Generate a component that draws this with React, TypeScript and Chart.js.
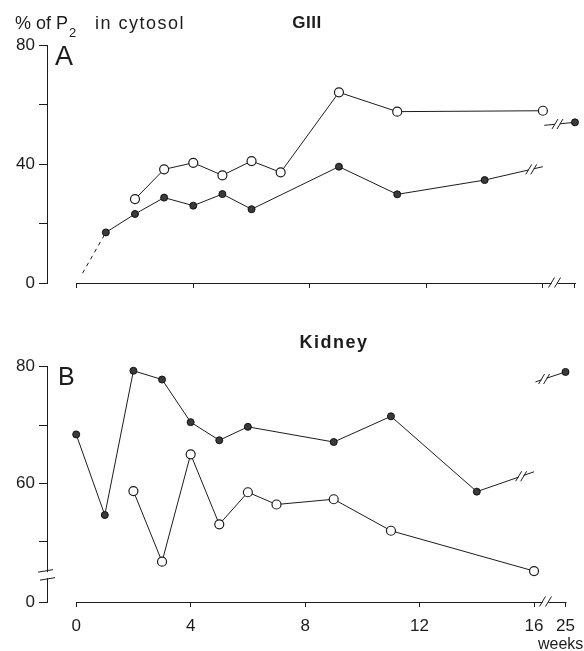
import React, { useEffect, useRef } from 'react';
import { Chart, registerables } from 'chart.js';

Chart.register(...registerables);

// ---------- data ----------
const xTickWeeks = [0, 4, 8, 12, 16, 25];
const xTickLabels = ['0', '4', '8', '12', '16', '25'];

// Panel A (GIII)
const weeksFilledA = [1, 2, 3, 4, 5, 6, 9, 11, 14];
const valuesFilledA = [17.0, 23.2, 28.7, 26.0, 29.9, 24.8, 39.1, 29.8, 34.6];
const weeksOpenA = [2, 3, 4, 5, 6, 7, 9, 11, 16];
const valuesOpenA = [28.2, 38.2, 40.4, 36.2, 41.0, 37.2, 64.1, 57.6, 57.9];
const filledA25 = 54.0; // filled value at 25 weeks
const breakEndsFilledA = [39.1, 53.0]; // line value just before / after the break
const extrapolationA = [3.3, 17.0]; // dashed line values (near week 0, at week 1)
const extrapolationWeeksA = [0.2, 1];
const yTicksA = [0, 20, 40, 60, 80];
const yTickLabelsA = ['0', '', '40', '', '80'];

// Panel B (Kidney)
const weeksFilledB = [0, 1, 2, 3, 4, 5, 6, 9, 11, 14];
const valuesFilledB = [68.4, 54.6, 79.3, 77.8, 70.5, 67.4, 69.7, 67.1, 71.5, 58.6];
const weeksOpenB = [2, 3, 4, 5, 6, 7, 9, 11, 16];
const valuesOpenB = [58.7, 46.6, 65.0, 53.0, 58.5, 56.4, 57.3, 51.9, 45.0];
const filledB25 = 79.1;
const breakEndsFilledB = [62.0, 77.4];
const yTicksB = [0, 50, 60, 70, 80];
const yTickLabelsB = ['0', '', '60', '', '80'];

// ---------- layout / style ----------
const FONT = '"Liberation Sans", Arial, Helvetica, sans-serif';
const INK = '#1c1c1c';
const W = 584;
const TOP_H = 300;
const BOT_H = 351;

const X_MIN = -1.02;
const X_MAX = 17.215;
const POS_25 = 17.1; // axis position of the 25-week point, beyond the break
const BREAK_LEFT = 16.0;
const BREAK_RIGHT = 16.05;
const AXIS_BREAK = 16.4;
const Y_FLOOR_B = 39.7; // bottom of the broken kidney axis (labelled 0)
const Y_BREAK_B = 44.3;

const axisX = (w: number) => (w > 16 ? POS_25 : w);
const axisYB = (v: number) => (v === 0 ? Y_FLOOR_B : v);

const pts = (weeks: number[], vals: number[]) => weeks.map((w, i) => ({ x: axisX(w), y: vals[i] }));

function xScale(showLabels: boolean, axisHeight: number, pad: number) {
  return {
    type: 'linear',
    min: X_MIN,
    max: X_MAX,
    bounds: 'data',
    afterFit: (s: any) => { s.height = axisHeight; },
    afterBuildTicks: (s: any) => { s.ticks = xTickWeeks.map((w) => ({ value: axisX(w) })); },
    grid: { drawOnChartArea: false, drawTicks: true, tickLength: 5, color: INK, lineWidth: 1 },
    border: { display: false },
    ticks: {
      autoSkip: false,
      maxRotation: 0,
      padding: pad,
      color: INK,
      font: { family: FONT, size: 17 },
      callback: (v: number) => {
        if (!showLabels) return '';
        const i = xTickWeeks.findIndex((w) => Math.abs(axisX(w) - v) < 1e-6);
        return i >= 0 ? xTickLabels[i] : '';
      },
    },
  };
}

function yScale(min: number, max: number, ticks: number[], labels: string[], map: (v: number) => number) {
  return {
    type: 'linear',
    min,
    max,
    bounds: 'data',
    afterFit: (s: any) => { s.width = 47; },
    afterBuildTicks: (s: any) => { s.ticks = ticks.map((v) => ({ value: map(v) })); },
    grid: { drawOnChartArea: false, tickLength: 8, color: INK, lineWidth: 1 },
    border: { display: true, color: INK, width: 1 },
    ticks: {
      autoSkip: false,
      padding: 4,
      color: INK,
      font: { family: FONT, size: 17 },
      callback: (v: number) => {
        const i = ticks.findIndex((t) => Math.abs(map(t) - v) < 1e-6);
        return i >= 0 ? labels[i] : '';
      },
    },
  };
}

const openStyle = {
  borderColor: INK,
  borderWidth: 1,
  pointRadius: 4.5,
  pointBackgroundColor: '#ffffff',
  pointBorderColor: INK,
  pointBorderWidth: 1.2,
  showLine: true,
  clip: false as any,
};
const filledStyle = {
  borderColor: INK,
  borderWidth: 1,
  pointBackgroundColor: '#3a3a3a',
  pointBorderColor: '#111111',
  pointBorderWidth: 1,
  showLine: true,
  clip: false as any,
};

function slash(ctx: CanvasRenderingContext2D, x: number, y: number, h: number) {
  ctx.beginPath();
  ctx.moveTo(x - h * 0.3, y + h / 2);
  ctx.lineTo(x + h * 0.3, y - h / 2);
  ctx.stroke();
}

function lineBreakAt(chart: any, a: { x: number; y: number }, b: { x: number; y: number }, at: number) {
  const xs = chart.scales.x;
  const ys = chart.scales.y;
  const ax = xs.getPixelForValue(a.x), ay = ys.getPixelForValue(a.y);
  const bx = xs.getPixelForValue(b.x), by = ys.getPixelForValue(b.y);
  const px = xs.getPixelForValue(at);
  const t = (px - ax) / (bx - ax);
  const py = ay + t * (by - ay);
  const ctx = chart.ctx;
  ctx.save();
  ctx.fillStyle = '#ffffff';
  ctx.fillRect(px - 2.5, py - 2.5, 5, 5);
  ctx.strokeStyle = INK;
  ctx.lineWidth = 1;
  slash(ctx, px - 2.5, py, 10);
  slash(ctx, px + 2.5, py, 10);
  ctx.restore();
}

function drawXAxisLine(chart: any) {
  const xs = chart.scales.x;
  const ctx = chart.ctx;
  const y = Math.round(chart.chartArea.bottom) + 0.5;
  const x0 = xs.getPixelForValue(0);
  const x1 = xs.getPixelForValue(POS_25) + 1;
  const xb = xs.getPixelForValue(AXIS_BREAK);
  ctx.save();
  ctx.strokeStyle = INK;
  ctx.lineWidth = 1;
  ctx.beginPath();
  ctx.moveTo(x0, y);
  ctx.lineTo(xb - 3, y);
  ctx.moveTo(xb + 3, y);
  ctx.lineTo(x1, y);
  ctx.stroke();
  slash(ctx, xb - 3, y - 1, 10);
  slash(ctx, xb + 3, y - 1, 10);
  ctx.restore();
}

const decorA = {
  id: 'decorA',
  afterDraw(chart: any) {
    const ctx = chart.ctx;
    drawXAxisLine(chart);
    lineBreakAt(chart, { x: 14, y: valuesFilledA[valuesFilledA.length - 1] }, { x: BREAK_LEFT, y: breakEndsFilledA[0] }, 15.6);
    lineBreakAt(chart, { x: BREAK_RIGHT, y: breakEndsFilledA[1] }, { x: POS_25, y: filledA25 }, 16.5);
    ctx.save();
    ctx.fillStyle = INK;
    ctx.textBaseline = 'alphabetic';
    ctx.textAlign = 'left';
    ctx.font = `18px ${FONT}`;
    ctx.fillText('% of P', 15, 29);
    const w1 = ctx.measureText('% of P').width;
    ctx.font = `13px ${FONT}`;
    ctx.fillText('2', 15 + w1 + 1, 37);
    ctx.font = `18px ${FONT}`;
    (ctx as any).letterSpacing = '1.5px';
    ctx.fillText('in cytosol', 95, 29);
    (ctx as any).letterSpacing = '0.5px';
    ctx.font = `bold 17px ${FONT}`;
    ctx.textAlign = 'center';
    ctx.fillText('GIII', 307, 28);
    (ctx as any).letterSpacing = '0px';
    ctx.textAlign = 'left';
    ctx.font = `27px ${FONT}`;
    ctx.fillText('A', 55, 65);
    ctx.restore();
  },
};

const decorB = {
  id: 'decorB',
  afterDraw(chart: any) {
    const ctx = chart.ctx;
    drawXAxisLine(chart);
    lineBreakAt(chart, { x: 14, y: valuesFilledB[valuesFilledB.length - 1] }, { x: BREAK_LEFT, y: breakEndsFilledB[0] }, 15.55);
    lineBreakAt(chart, { x: BREAK_RIGHT, y: breakEndsFilledB[1] }, { x: POS_25, y: filledB25 }, 16.35);
    // broken y axis
    const ys = chart.scales.y;
    const yb = ys.getPixelForValue(Y_BREAK_B);
    const xa = chart.chartArea.left;
    ctx.save();
    ctx.fillStyle = '#ffffff';
    ctx.fillRect(xa - 2, yb - 3, 4, 6);
    ctx.strokeStyle = INK;
    ctx.lineWidth = 1;
    ctx.beginPath();
    ctx.moveTo(xa - 9, yb - 3);
    ctx.lineTo(xa + 6, yb - 5.5);
    ctx.moveTo(xa - 7, yb + 5);
    ctx.lineTo(xa + 8, yb + 2.5);
    ctx.stroke();
    ctx.fillStyle = INK;
    ctx.textBaseline = 'alphabetic';
    ctx.font = `bold 18px ${FONT}`;
    (ctx as any).letterSpacing = '1.5px';
    ctx.textAlign = 'center';
    ctx.fillText('Kidney', 334, 48);
    (ctx as any).letterSpacing = '0px';
    ctx.textAlign = 'left';
    ctx.font = `25px ${FONT}`;
    ctx.fillText('B', 58, 85);
    ctx.font = `16px ${FONT}`;
    ctx.fillText('weeks', 538, 349);
    ctx.restore();
  },
};

function configA(): any {
  return {
    type: 'scatter',
    data: {
      datasets: [
        { ...openStyle, data: pts(weeksOpenA, valuesOpenA) },
        {
          ...filledStyle,
          data: [...pts(weeksFilledA, valuesFilledA), { x: BREAK_LEFT, y: breakEndsFilledA[0] }],
          pointRadius: [...weeksFilledA.map(() => 3.5), 0],
        },
        {
          ...filledStyle,
          data: [{ x: BREAK_RIGHT, y: breakEndsFilledA[1] }, { x: axisX(25), y: filledA25 }],
          pointRadius: [0, 3.5],
        },
        {
          borderColor: INK,
          borderWidth: 1,
          borderDash: [4, 4],
          pointRadius: 0,
          showLine: true,
          clip: false,
          data: pts(extrapolationWeeksA, extrapolationA),
        },
      ],
    },
    options: {
      responsive: false,
      animation: false,
      events: [],
      layout: { padding: { top: 45, left: 0, right: 0, bottom: 0 } },
      plugins: { legend: { display: false }, tooltip: { enabled: false }, title: { display: false } },
      scales: {
        x: xScale(false, 17, 3),
        y: yScale(0, 80, yTicksA, yTickLabelsA, (v) => v),
      },
    },
    plugins: [decorA],
  };
}

function configB(): any {
  return {
    type: 'scatter',
    data: {
      datasets: [
        { ...openStyle, data: pts(weeksOpenB, valuesOpenB) },
        {
          ...filledStyle,
          data: [...pts(weeksFilledB, valuesFilledB), { x: BREAK_LEFT, y: breakEndsFilledB[0] }],
          pointRadius: [...weeksFilledB.map(() => 3.5), 0],
        },
        {
          ...filledStyle,
          data: [{ x: BREAK_RIGHT, y: breakEndsFilledB[1] }, { x: axisX(25), y: filledB25 }],
          pointRadius: [0, 3.5],
        },
      ],
    },
    options: {
      responsive: false,
      animation: false,
      events: [],
      layout: { padding: { top: 66.7, left: 0, right: 0, bottom: 0 } },
      plugins: { legend: { display: false }, tooltip: { enabled: false }, title: { display: false } },
      scales: {
        x: xScale(true, 49, 9),
        y: yScale(Y_FLOOR_B, 80, yTicksB, yTickLabelsB, axisYB),
      },
    },
    plugins: [decorB],
  };
}

export default function App() {
  const refA = useRef<HTMLCanvasElement>(null);
  const refB = useRef<HTMLCanvasElement>(null);
  useEffect(() => {
    const a = new Chart(refA.current as HTMLCanvasElement, configA());
    const b = new Chart(refB.current as HTMLCanvasElement, configB());
    return () => {
      a.destroy();
      b.destroy();
    };
  }, []);
  return (
    <div style={{ position: 'absolute', left: 0, top: 0, width: W, height: TOP_H + BOT_H, background: '#ffffff', overflow: 'hidden' }}>
      <canvas ref={refA} width={W} height={TOP_H} style={{ position: 'absolute', left: 0, top: 0, width: W, height: TOP_H }} />
      <canvas ref={refB} width={W} height={BOT_H} style={{ position: 'absolute', left: 0, top: TOP_H, width: W, height: BOT_H }} />
    </div>
  );
}
